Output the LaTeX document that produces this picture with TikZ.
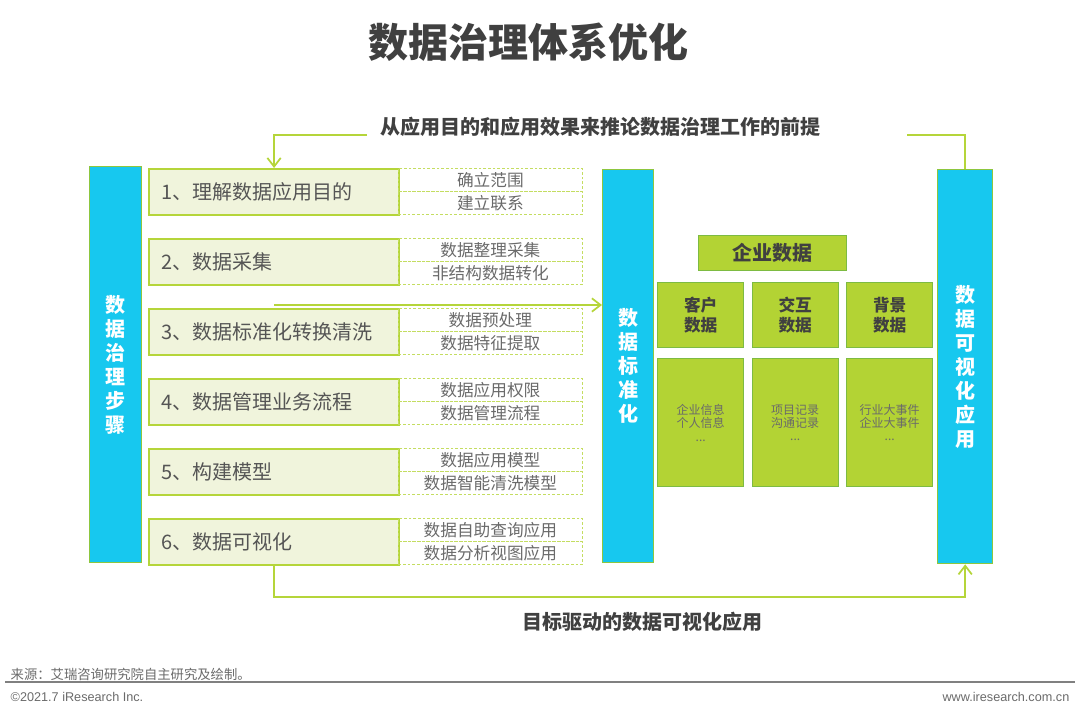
\documentclass[tikz,border=0pt]{standalone}
\usepackage{fontspec}
\setmainfont{Noto Sans CJK SC}
\newfontfamily\latin{Liberation Sans}
\usetikzlibrary{arrows.meta}

\definecolor{barblue}{HTML}{17C8EF}
\definecolor{barline}{HTML}{8DC63F}
\definecolor{lime}{HTML}{B3D334}
\definecolor{limeline}{HTML}{7DBB42}
\definecolor{pale}{HTML}{F0F4DC}
\definecolor{stepline}{HTML}{B5D53A}
\definecolor{ink}{HTML}{404040}
\definecolor{mid}{HTML}{555555}
\definecolor{soft}{HTML}{6A6A6A}

\tikzset{
  wh/.style 2 args={minimum width=#1*0.75pt, minimum height=#2*0.75pt},
  bar/.style={draw=barline, fill=barblue, line width=1pt, anchor=north west, inner sep=0pt,
    text=white, font=\fontsize{15}{18}\selectfont\bfseries, align=center},
  stepbox/.style={draw=stepline, fill=pale, line width=1.6pt, anchor=north west, wh={250}{46},
    text width=226*0.75pt, align=left, inner xsep=12*0.75pt, inner ysep=0pt,
    text=mid, font=\fontsize{15}{18}\selectfont},
  subbox/.style={draw=stepline!80, dash pattern=on 2pt off 1.5pt, line width=0.6pt,
    anchor=north west, wh={184}{23}, inner sep=0pt, text=soft, font=\fontsize{12.5}{14}\selectfont},
  datbox/.style={draw=limeline, fill=lime, line width=1pt, anchor=north west, inner sep=0pt,
    align=center, text=ink},
  flow/.style={draw=stepline, line width=1.5pt},
}

\begin{document}
\begin{tikzpicture}[x=0.75pt, y=-0.75pt, >={Straight Barb[length=6.5pt,width=10pt,line width=1.3pt]}]
\useasboundingbox (0,0) rectangle (1080,716);

% title
\node[font=\fontsize{30}{36}\selectfont\bfseries, text=ink] (title) at (528,42) {数据治理体系优化};

% the three bars
\node[bar, wh={52}{396}] (steps) at (89,166) {数\\据\\治\\理\\步\\骤};
\node[bar, wh={51}{393}] (std) at (602,169) {数\\据\\标\\准\\化};
\node[bar, wh={55}{394}] (vis) at (937,169) {数\\据\\可\\视\\化\\应\\用};

% steps with their two items
\foreach \i/\t/\a/\b in {1/理解数据应用目的/确立范围/建立联系,
    2/数据采集/数据整理采集/非结构数据转化,
    3/数据标准化转换清洗/数据预处理/数据特征提取,
    4/数据管理业务流程/数据应用权限/数据管理流程,
    5/构建模型/数据应用模型/数据智能清洗模型,
    6/数据可视化/数据自助查询应用/数据分析视图应用}{
  \pgfmathsetmacro\ytop{168+70*(\i-1)}
  \node[stepbox] (s\i) at (148,\ytop) {\i、\t};
  \node[subbox] (a\i) at (398,\ytop) {\a};
  \node[subbox] (b\i) at (398,\ytop+23) {\b};
}

% enterprise data
\node[datbox, wh={148}{35}, font=\fontsize{15}{18}\selectfont\bfseries] (ent) at (698,235) {企业数据};
\foreach \j/\x/\t/\u/\v in {1/657/客户/企业信息/个人信息,
    2/751.5/交互/项目记录/沟通记录,
    3/846/背景/行业大事件/企业大事件}{
  \node[datbox, wh={86}{65}, font=\fontsize{12.5}{14.5}\selectfont\bfseries] (k\j) at (\x,282) {\t\\数据};
  \node[datbox, wh={86}{128}, font=\fontsize{9}{10}\selectfont, text=soft] (r\j) at (\x,358) {\u\\\v\\...};
}

% connectors
\node[font=\fontsize{15}{18}\selectfont\bfseries, text=ink] (goal) at (600,127) {从应用目的和应用效果来推论数据治理工作的前提};
\coordinate (g0) at (367,135);
\coordinate (g1) at (907,135);
\draw[flow,->] (g0) -| (s1.north);
\draw[flow] (g1) -| (vis.north);
\coordinate (m0) at ([yshift=3*0.75pt]s3.north);
\draw[flow,->] (m0) -- (m0 -| std.west);
\draw[flow,->] (s6.south) -- ++(0,31) -| (vis.south);
\node[font=\fontsize{15}{18}\selectfont\bfseries, text=ink] (vislabel) at (642,622) {目标驱动的数据可视化应用};

% footer
\node[anchor=west, font=\fontsize{10}{12}\selectfont, text=soft] (src) at (6,674) {来源：艾瑞咨询研究院自主研究及绘制。};
\draw[gray, line width=1.2pt] (5,682) -- (1075,682);
\node[anchor=west, font=\latin\fontsize{9.5}{11}\selectfont, text=soft] (copy) at (6,697) {©2021.7 iResearch Inc.};
\node[anchor=east, font=\latin\fontsize{9.5}{11}\selectfont, text=soft] (web) at (1074,697) {www.iresearch.com.cn};
\end{tikzpicture}
\end{document}
